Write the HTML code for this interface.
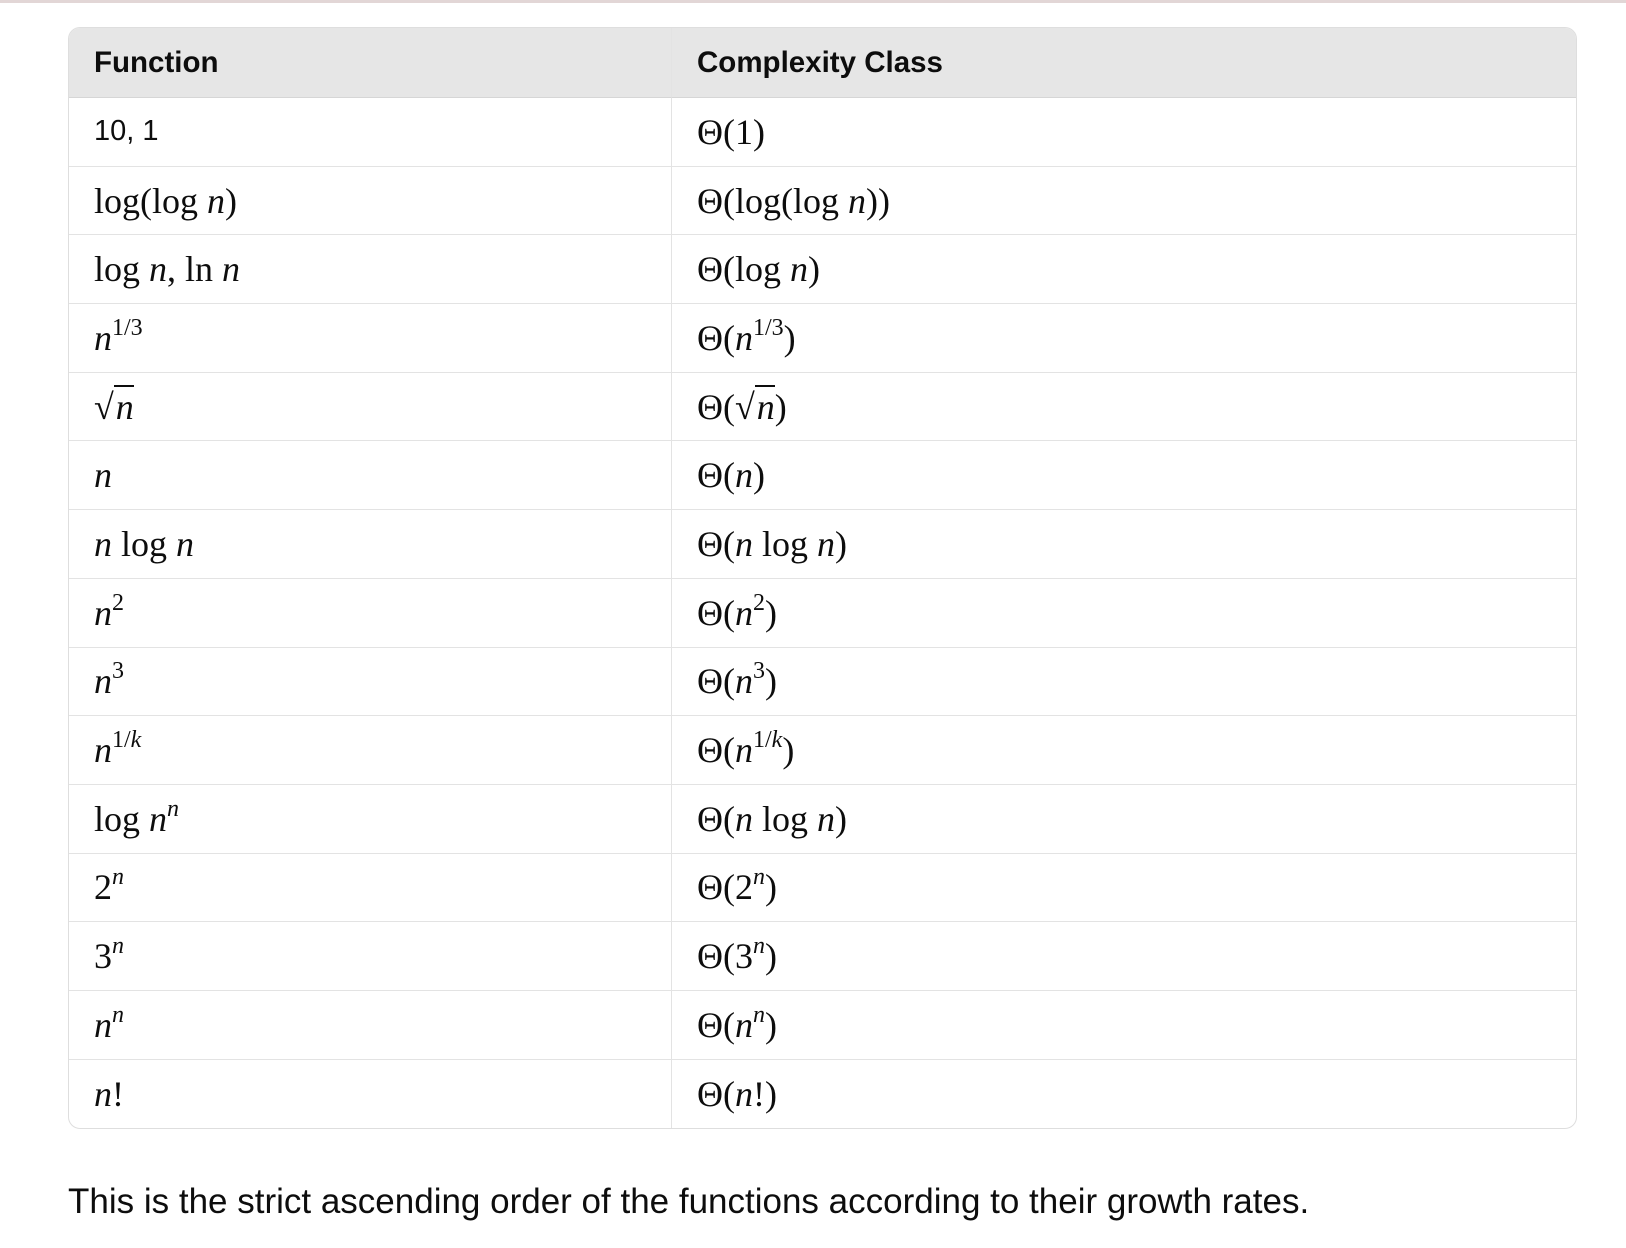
<!DOCTYPE html>
<html><head><meta charset="utf-8"><style>
body{margin:0;width:1626px;height:1248px;background:#fff;position:relative;overflow:hidden;font-family:"Liberation Sans",sans-serif;color:#0d0d0d}
.topline{position:absolute;left:0;top:0;width:1626px;height:3px;background:#e2d6d6}
table{position:absolute;left:68px;top:27px;width:1509px;border-collapse:separate;border-spacing:0;border:1.5px solid #dedede;border-radius:12px;overflow:hidden}
th,td{height:68.7px;padding:0 0 0 25px;text-align:left;border-bottom:1.5px solid #e3e3e3;box-sizing:border-box}
th{background:#e6e6e6;font-size:29.5px;font-weight:bold;height:70px;border-bottom:1.5px solid #d6d6d6}
td{font-family:"Liberation Serif",serif;font-size:36px}
tr:last-child td{border-bottom:none}
th:first-child,td:first-child{width:603px;border-right:1.5px solid #e3e3e3}
i{font-style:italic}
sup{font-size:24px;vertical-align:15px;line-height:0}
.sans{font-family:"Liberation Sans",sans-serif;font-size:29px}
.sq{border-top:2px solid #0d0d0d;padding-left:2px}
p{position:absolute;left:68px;top:1182px;margin:0;font-size:35px}
</style></head><body>
<div class="topline"></div>
<table>
<tr><th>Function</th><th>Complexity Class</th></tr>
<tr><td class="sans">10, 1</td><td>Θ(1)</td></tr>
<tr><td>log(log <i>n</i>)</td><td>Θ(log(log <i>n</i>))</td></tr>
<tr><td>log <i>n</i>, ln <i>n</i></td><td>Θ(log <i>n</i>)</td></tr>
<tr><td><i>n</i><sup>1/3</sup></td><td>Θ(<i>n</i><sup>1/3</sup>)</td></tr>
<tr><td>√<span class="sq"><i>n</i></span></td><td>Θ(√<span class="sq"><i>n</i></span>)</td></tr>
<tr><td><i>n</i></td><td>Θ(<i>n</i>)</td></tr>
<tr><td><i>n</i> log <i>n</i></td><td>Θ(<i>n</i> log <i>n</i>)</td></tr>
<tr><td><i>n</i><sup>2</sup></td><td>Θ(<i>n</i><sup>2</sup>)</td></tr>
<tr><td><i>n</i><sup>3</sup></td><td>Θ(<i>n</i><sup>3</sup>)</td></tr>
<tr><td><i>n</i><sup>1/<i>k</i></sup></td><td>Θ(<i>n</i><sup>1/<i>k</i></sup>)</td></tr>
<tr><td>log <i>n</i><sup><i>n</i></sup></td><td>Θ(<i>n</i> log <i>n</i>)</td></tr>
<tr><td>2<sup><i>n</i></sup></td><td>Θ(2<sup><i>n</i></sup>)</td></tr>
<tr><td>3<sup><i>n</i></sup></td><td>Θ(3<sup><i>n</i></sup>)</td></tr>
<tr><td><i>n</i><sup><i>n</i></sup></td><td>Θ(<i>n</i><sup><i>n</i></sup>)</td></tr>
<tr><td><i>n</i>!</td><td>Θ(<i>n</i>!)</td></tr>
</table>
<p>This is the strict ascending order of the functions according to their growth rates.</p>
</body></html>
